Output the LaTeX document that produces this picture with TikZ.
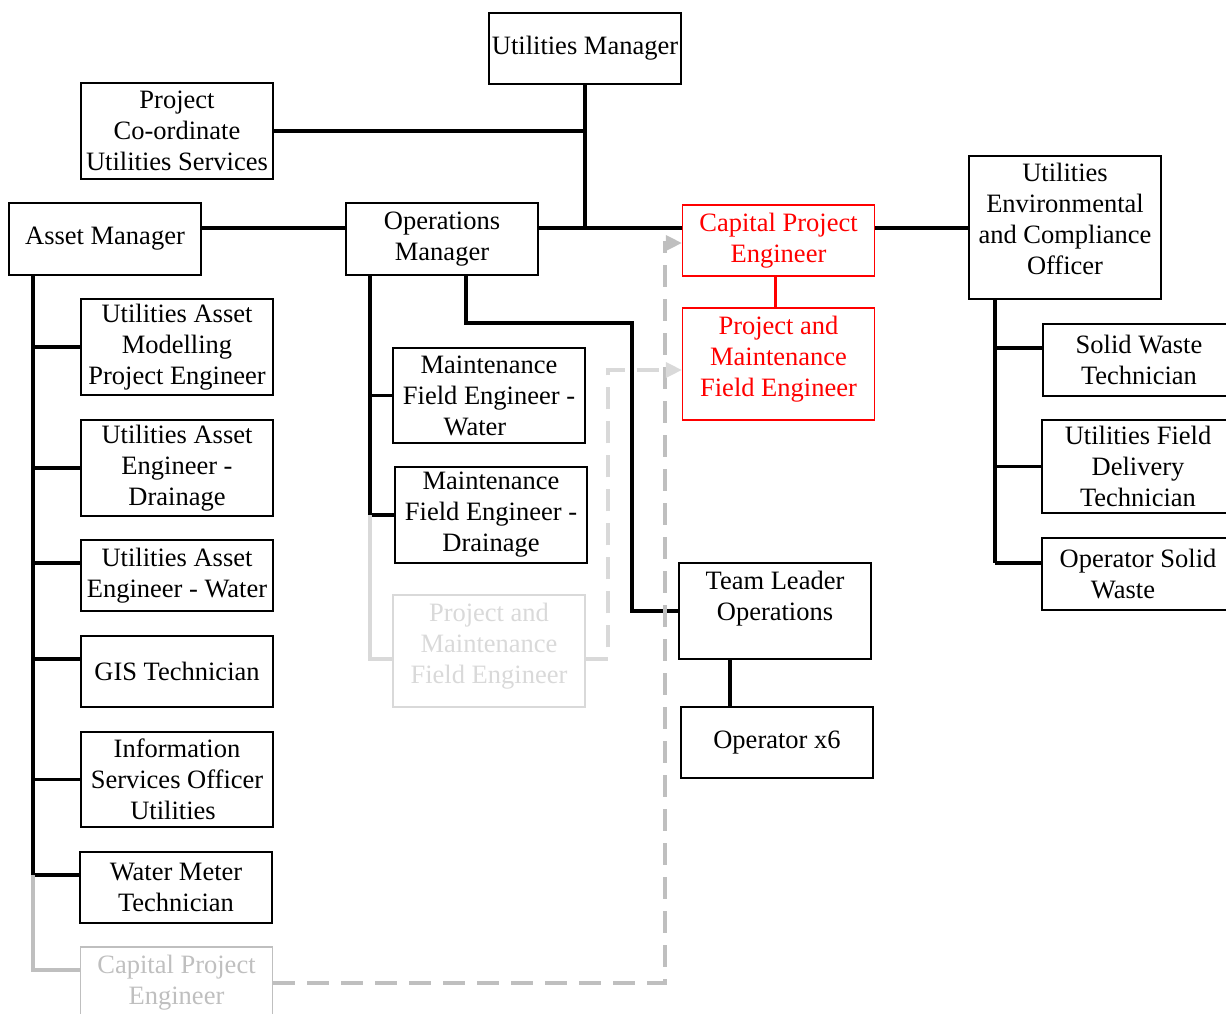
\documentclass[tikz,border=0pt]{standalone}
\usepackage{fontspec}
\setmainfont{Liberation Serif}
\usepackage{xcolor}
\usetikzlibrary{positioning}
\usetikzlibrary{arrows.meta}
\definecolor{ghostgrey}{HTML}{BFBFBF}
\definecolor{paleghost}{HTML}{D9D9D9}
\tikzset{orgbox/.style={draw, line width=1.2pt, minimum width=192pt, inner sep=0pt,
align=center, font=\fontsize{26.5}{31}\selectfont}}

\begin{document}
\begin{tikzpicture}[x=1pt, y=-1pt, redbox/.style={orgbox, draw=red, text=red},
	ghost/.style={orgbox, draw=ghostgrey, text=ghostgrey}, paleghostbox/.style={orgbox, draw=paleghost, text=paleghost},
	link/.style={line width=3.6pt}, ghostlink/.style={line width=3.4pt, color=ghostgrey},
	palelink/.style={line width=3.4pt, color=paleghost},
	dasharrow/.style={line width=3.4pt, dash pattern=on 22pt off 12pt, -{Triangle[length=16pt,width=15pt]}}]

				\useasboundingbox (0,0) rectangle (1226,1014);

				% top level
				\node[orgbox, minimum height=71pt] (um) at (585,48.5) {Utilities Manager};
				\node[orgbox, minimum height=96pt] (pcus) at (177,131) {Project\\Co-ordinate\\Utilities Services};
				\node[orgbox, minimum height=72pt] (am) at (105,239) {Asset Manager};
				\node[orgbox, minimum height=72pt] (om) at (442,239) {Operations\\Manager};
				\node[redbox, minimum height=71pt] (cpe) at (778.5,240.5) {Capital Project\\Engineer};
				\node[redbox, minimum height=112pt] (pmfe) at (778.5,364) {Project and\\Maintenance\\Field Engineer\\[-15pt]};
				\node[orgbox, minimum height=143pt] (ueco) at (1065,227.5) {Utilities\\Environmental\\and Compliance\\Officer\\[-13pt]};

				% asset side
				\node[orgbox, minimum height=96pt] (uamp) at (177,347) {Utilities Asset\\Modelling\\Project Engineer};
				\node[orgbox, minimum height=96pt] (uaed) at (177,468) {Utilities Asset\\Engineer -\\Drainage};
				\node[orgbox, minimum height=71pt] (uaew) at (177,575.5) {Utilities Asset\\Engineer - Water};
				\node[orgbox, minimum height=71pt] (gis) at (177,671.5) {GIS Technician};
				\node[orgbox, minimum height=95pt] (isou) at (177,779.5) {Information\\Services Officer\\Utilities\hspace*{8pt}};
				\node[orgbox, minimum height=71pt] (wmt) at (176,887.5) {Water Meter\\Technician};
				\node[ghost, minimum height=72pt] (cpeg) at (176.5,983) {Capital Project\\Engineer};

				% operations side
				\node[orgbox, minimum height=95pt] (mfew) at (489,395.5) {Maintenance\\Field Engineer -\\Water\hspace*{28pt}};
				\node[orgbox, minimum height=96pt] (mfed) at (491,515) {Maintenance\\Field Engineer -\\Drainage};
				\node[paleghostbox, minimum height=112pt] (pmfeg) at (489,651) {Project and\\Maintenance\\Field Engineer\\[-15pt]};
				\node[orgbox, minimum height=96pt] (tlo) at (775,611) {Team Leader\\Operations\\\mbox{}};
				\node[orgbox, minimum height=71pt] (ox6) at (777,742.5) {Operator x6};

				% environmental side
				\node[orgbox, minimum height=72pt] (swt) at (1139,360) {Solid Waste\\Technician};
				\node[orgbox, minimum height=93pt] (ufdt) at (1138,466.5) {Utilities Field\\Delivery\\Technician};
				\node[orgbox, minimum height=72pt] (osw) at (1138,574) {Operator Solid\\Waste\hspace*{30pt}};

				\coordinate (hub) at (585,228);
				\coordinate (amtrunk) at (33,275);
				\coordinate (omtrunk) at (370,275);
				\coordinate (uecotrunk) at (995,299);
				\coordinate (bend) at (632,323);

				\draw[link] (um.south) -- (um.south |- hub);
				\draw[link] (pcus.east) -- (pcus.east -| um.south);
				\draw[link] (am.east |- hub) -- (om.west |- hub);
				\draw[link] (om.east |- hub) -- (cpe.west |- hub);
				\draw[link] (cpe.east |- hub) -- (ueco.west |- hub);
				\draw[line width=3.6pt, red] ([xshift=-3pt]cpe.south) -- ([xshift=-3pt]pmfe.north);

				\draw[link] (amtrunk) -- ([yshift=12.5pt]wmt.west -| amtrunk);
				\foreach \n/\dy in {uamp/0, uaed/0, uaew/12.5, gis/12.5, isou/0, wmt/12.5}
					\draw[link] ([yshift=\dy pt]\n.west -| amtrunk) -- ([yshift=\dy pt]\n.west);
				\draw[ghostlink] ([yshift=12.5pt]wmt.west -| amtrunk) |- ([yshift=13pt]cpeg.west);

				\draw[link] (omtrunk) -- (mfed.west -| omtrunk);
				\foreach \n in {mfew, mfed}
					\draw[link] (\n.west -| omtrunk) -- (\n.west);
				\draw[palelink] (mfed.west -| omtrunk) |- ([yshift=-8pt]pmfeg.west);
				\draw[link] ([xshift=24pt]om.south) |- (bend) |- (tlo.west);
				\draw[link] ([xshift=-45pt]tlo.south) -- ([xshift=-45pt]tlo.south |- ox6.north);

				\draw[link] (uecotrunk) -- ([yshift=11pt]osw.west -| uecotrunk);
				\foreach \n/\dy in {swt/12, ufdt/0, osw/11}
					\draw[link] ([yshift=\dy pt]\n.west -| uecotrunk) -- ([yshift=\dy pt]\n.west);

				% dashed moves
				\draw[dasharrow, ghostgrey] (cpeg.east) -| ([xshift=-17pt,yshift=-2.5pt]cpe.west) -- ([yshift=-2.5pt]cpe.west);
				\draw[dasharrow, paleghost] ([yshift=-8pt]pmfeg.east) -| ([xshift=-74pt,yshift=-6pt]pmfe.west) -- ([yshift=-6pt]pmfe.west);
			\end{tikzpicture}
\end{document}
